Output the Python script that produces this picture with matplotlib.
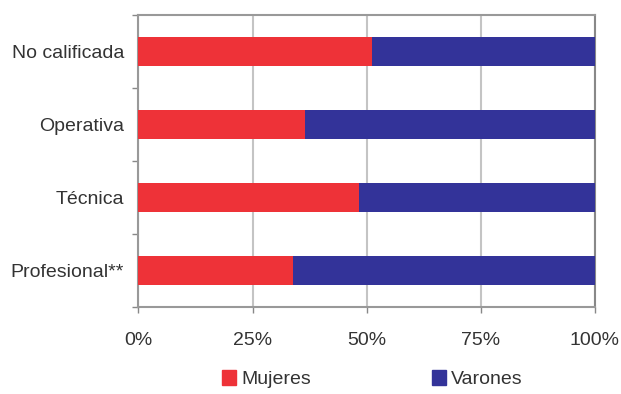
import numpy as np
import matplotlib.pyplot as plt
from matplotlib.patches import Patch

categorias = ['No calificada', 'Operativa', 'Técnica', 'Profesional**']
mujeres = [51.1, 36.5, 48.3, 33.9]
varones = [48.9, 63.5, 51.7, 66.1]
xticks = [0, 25, 50, 75, 100]
xlabels = ['0%', '25%', '50%', '75%', '100%']

rojo = '#ee3238'
azul = '#333399'

plt.rcParams['font.family'] = ['Liberation Sans', 'DejaVu Sans']

fig = plt.figure(figsize=(6.21, 3.94), dpi=100)
ax = fig.add_axes([0.223, 0.221, 0.735, 0.741])

y = np.arange(len(categorias))[::-1]
ax.barh(y, mujeres, height=0.4, color=rojo, zorder=3)
ax.barh(y, varones, left=mujeres, height=0.4, color=azul, zorder=3)

ax.set_xlim(0, 100)
ax.set_ylim(-0.5, len(categorias) - 0.5)

ax.set_xticks(xticks)
ax.set_xticklabels(xlabels)
ax.set_yticks(y)
ax.set_yticklabels(categorias)
ax.set_yticks(np.arange(-0.5, len(categorias)), minor=True)

ax.tick_params(axis='y', which='major', length=0, pad=10.5, labelsize=14, labelcolor='#333333')
ax.tick_params(axis='y', which='minor', length=4, color='#888888', width=1)
ax.tick_params(axis='x', length=4, color='#888888', width=1, pad=14, labelsize=14, labelcolor='#333333')

ax.grid(axis='x', color='#c4c4c4', linewidth=1.5, zorder=0)
for s in ['left', 'bottom', 'top']:
    ax.spines[s].set_color('#999999')
    ax.spines[s].set_linewidth(1.5)
ax.spines['right'].set_color('#888888')
ax.spines['right'].set_linewidth(1.5)

handles = [Patch(color=rojo, label='Mujeres'), Patch(color=azul, label='Varones')]
fig.legend(handles=handles, loc='lower center', bbox_to_anchor=(0.60, -0.03), ncol=2,
           frameon=False, fontsize=14, handlelength=0.7, handleheight=0.8,
           handletextpad=0.3, columnspacing=6.2, labelcolor='#333333')

fig.savefig('out.png', dpi=100)
